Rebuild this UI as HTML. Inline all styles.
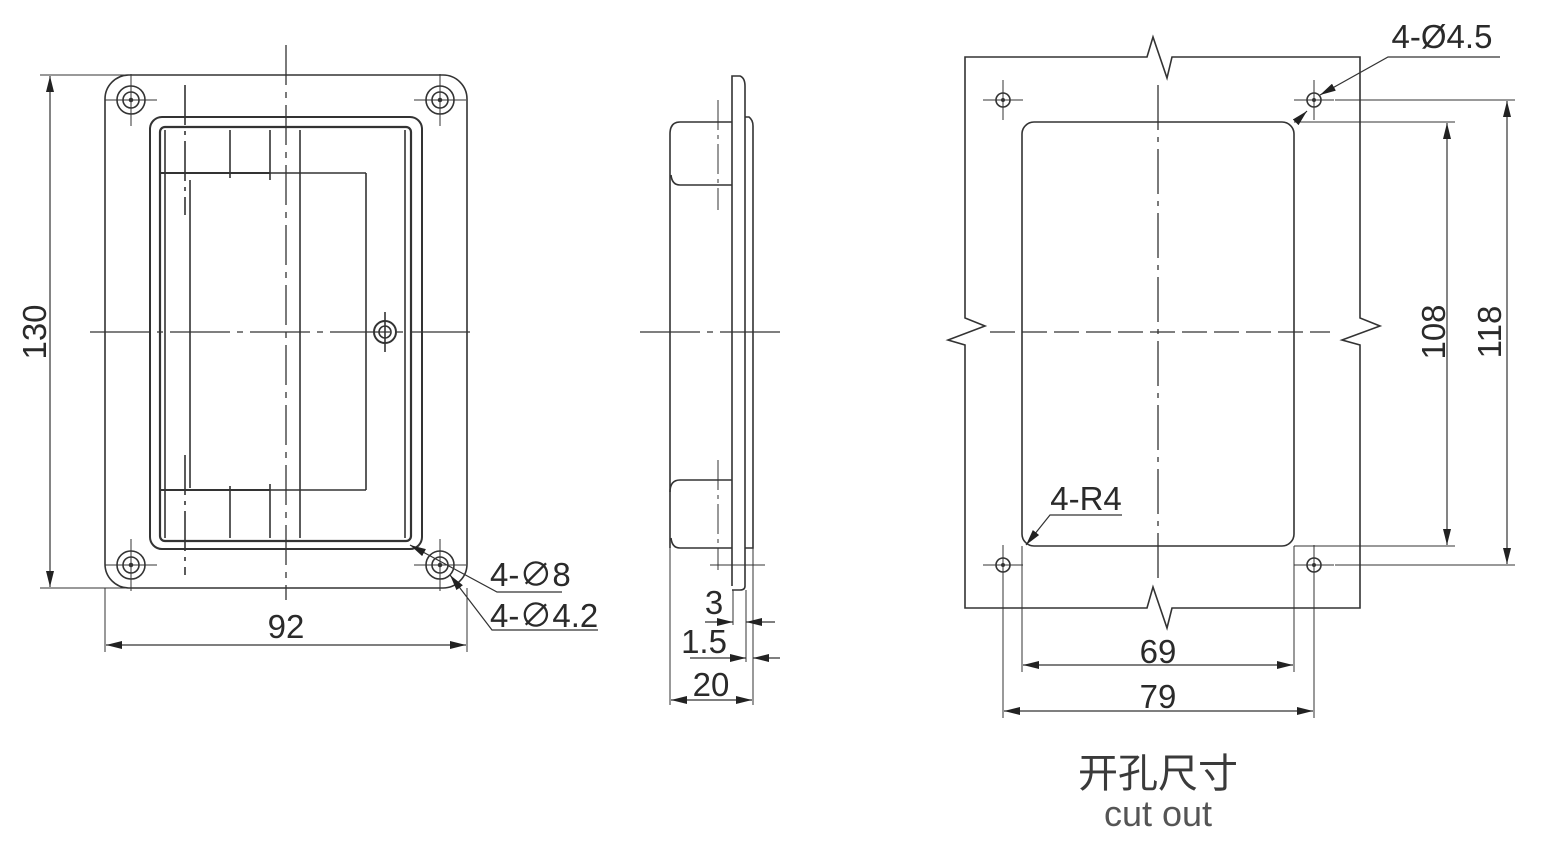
<!DOCTYPE html>
<html><head><meta charset="utf-8"><style>
html,body{margin:0;padding:0;background:#fff;}
svg{display:block;}
text{font-family:"Liberation Sans","Noto Sans CJK SC",sans-serif;fill:#2a2a2a;}
</style></head><body>
<svg width="1547" height="848" viewBox="0 0 1547 848" xmlns="http://www.w3.org/2000/svg">
<defs>
<marker id="a" viewBox="0 0 16 8" refX="16" refY="4" markerWidth="16" markerHeight="8" orient="auto-start-reverse" markerUnits="userSpaceOnUse"><path d="M0,0 L16,4 L0,8 z" fill="#222"/></marker>
<g id="h" fill="none" stroke="#333" stroke-width="1.6"><circle r="14"/><circle r="8"/><circle r="1.5" fill="#333"/><line x1="-26" y1="0" x2="26" y2="0" stroke-width="1"/><line x1="0" y1="-26" x2="0" y2="26" stroke-width="1"/></g>
<g id="s" fill="none" stroke="#333" stroke-width="1.6"><circle r="7"/><circle r="1.2" fill="#333"/><line x1="-20" y1="0" x2="20" y2="0" stroke-width="1"/><line x1="0" y1="-20" x2="0" y2="20" stroke-width="1"/></g>
</defs>
<g fill="none" stroke="#333" stroke-width="1.6">
<!-- LEFT VIEW -->
<rect x="105" y="75" width="362" height="513" rx="24"/>
<rect x="150" y="117" width="272" height="432" rx="12" stroke-width="2"/>
<rect x="160" y="127" width="251" height="414" rx="5" stroke-width="2.2"/>
<line x1="165" y1="130" x2="165" y2="538"/>
<line x1="405" y1="130" x2="405" y2="538"/>
<line x1="160" y1="173" x2="270" y2="173" stroke-width="2"/>
<line x1="230" y1="130" x2="230" y2="178"/>
<line x1="270" y1="130" x2="270" y2="180"/>
<line x1="300" y1="130" x2="300" y2="538"/>
<line x1="270" y1="173" x2="366" y2="173"/>
<line x1="366" y1="173" x2="366" y2="490"/>
<line x1="190" y1="180" x2="190" y2="488"/>
<line x1="160" y1="490" x2="270" y2="490" stroke-width="2"/>
<line x1="230" y1="486" x2="230" y2="538"/>
<line x1="270" y1="484" x2="270" y2="538"/>
<line x1="270" y1="490" x2="366" y2="490"/>
<line x1="185" y1="85" x2="185" y2="215" stroke-dasharray="40,6,4,6"/>
<line x1="185" y1="455" x2="185" y2="575" stroke-dasharray="40,6,4,6"/>
<line x1="286" y1="45" x2="286" y2="600" stroke-dasharray="40,7,6,7" stroke-width="1.3"/>
<line x1="90" y1="332" x2="475" y2="332" stroke-dasharray="60,7,6,7" stroke-width="1.3"/>
<circle cx="385" cy="332" r="11" stroke-width="2"/><circle cx="385" cy="332" r="6"/>
<line x1="385" y1="312" x2="385" y2="352"/>
</g>
<use href="#h" x="131" y="100"/><use href="#h" x="440" y="100"/><use href="#h" x="131" y="565"/><use href="#h" x="440" y="565"/>
<use href="#s" x="1003" y="100"/><use href="#s" x="1314" y="100"/><use href="#s" x="1003" y="565"/><use href="#s" x="1314" y="565"/>
<g fill="none" stroke="#333" stroke-width="1.6">
<line x1="40" y1="75" x2="150" y2="75" stroke-width="1"/>
<line x1="40" y1="588" x2="150" y2="588" stroke-width="1"/>
<line x1="50" y1="76" x2="50" y2="587" marker-start="url(#a)" marker-end="url(#a)" stroke-width="1.2"/>
<line x1="105" y1="588" x2="105" y2="652" stroke-width="1"/>
<line x1="467" y1="588" x2="467" y2="652" stroke-width="1"/>
<line x1="106" y1="645" x2="466" y2="645" marker-start="url(#a)" marker-end="url(#a)" stroke-width="1.2"/>
<polyline points="562,592 497,592 410,545" stroke-width="1.2" marker-end="url(#a)"/>
<polyline points="598,630 492,630 450,575" stroke-width="1.2" marker-end="url(#a)"/>
<!-- SIDE VIEW -->
<path d="M732,586 L732,76 L740,76 Q745,78 745,86 L745,586 Q745,590 740,590 L732,590"/>
<path d="M745,117 L749,117 Q753,120 753,126 L753,548 L745,548"/>
<path d="M732,122 L680,122 Q670,122 670,134 L670,548"/>
<path d="M732,185 L680,185 Q672,185 671,175"/>
<path d="M732,480 L680,480 Q670,480 670,492"/>
<path d="M732,548 L680,548 Q672,548 671,538"/>
<line x1="670" y1="540" x2="670" y2="705" stroke-width="1"/>
<line x1="753" y1="548" x2="753" y2="705" stroke-width="1"/>
<line x1="733" y1="590" x2="733" y2="625" stroke-width="1"/>
<line x1="746" y1="590" x2="746" y2="662" stroke-width="1"/>
<line x1="718" y1="100" x2="718" y2="210" stroke-dasharray="30,5,4,5" stroke-width="1"/>
<line x1="718" y1="460" x2="718" y2="570" stroke-dasharray="30,5,4,5" stroke-width="1"/>
<line x1="640" y1="332" x2="785" y2="332" stroke-dasharray="60,7,6,7" stroke-width="1.2"/>
<line x1="710" y1="565" x2="765" y2="565" stroke-width="1"/>
<line x1="705" y1="622" x2="733" y2="622" marker-end="url(#a)" stroke-width="1.2"/>
<line x1="775" y1="622" x2="746" y2="622" marker-end="url(#a)" stroke-width="1.2"/>
<line x1="690" y1="658" x2="746" y2="658" marker-end="url(#a)" stroke-width="1.2"/>
<line x1="780" y1="658" x2="753" y2="658" marker-end="url(#a)" stroke-width="1.2"/>
<line x1="671" y1="700" x2="752" y2="700" marker-start="url(#a)" marker-end="url(#a)" stroke-width="1.2"/>
<!-- CUTOUT VIEW -->
<path d="M965,57 L1147,57 L1153,37 L1167,78 L1172,57 L1360,57 L1360,318 L1380,326 L1342,340 L1360,345 L1360,608 L1172,608 L1167,628 L1153,587 L1147,608 L965,608 L965,345 L948,340 L985,326 L965,318 Z"/>
<rect x="1022" y="122" width="272" height="424" rx="12"/>
<line x1="1158" y1="85" x2="1158" y2="580" stroke-dasharray="45,7,5,7" stroke-width="1.3"/>
<line x1="990" y1="332" x2="1330" y2="332" stroke-dasharray="25,7" stroke-width="1.3"/>
<line x1="1335" y1="100" x2="1515" y2="100" stroke-width="1"/>
<line x1="1335" y1="565" x2="1515" y2="565" stroke-width="1"/>
<line x1="1294" y1="122" x2="1455" y2="122" stroke-width="1"/>
<line x1="1294" y1="546" x2="1455" y2="546" stroke-width="1"/>
<line x1="1447" y1="123" x2="1447" y2="545" marker-start="url(#a)" marker-end="url(#a)" stroke-width="1.2"/>
<line x1="1507" y1="101" x2="1507" y2="564" marker-start="url(#a)" marker-end="url(#a)" stroke-width="1.2"/>
<line x1="1022" y1="546" x2="1022" y2="672" stroke-width="1"/>
<line x1="1294" y1="546" x2="1294" y2="672" stroke-width="1"/>
<line x1="1003" y1="580" x2="1003" y2="718" stroke-width="1"/>
<line x1="1314" y1="580" x2="1314" y2="718" stroke-width="1"/>
<line x1="1023" y1="665" x2="1293" y2="665" marker-start="url(#a)" marker-end="url(#a)" stroke-width="1.2"/>
<line x1="1004" y1="711" x2="1313" y2="711" marker-start="url(#a)" marker-end="url(#a)" stroke-width="1.2"/>
<polyline points="1500,57 1388,57 1320,95" stroke-width="1.2" marker-end="url(#a)"/>
<line x1="1300" y1="118" x2="1307" y2="111" stroke-width="1.2" marker-end="url(#a)"/>
<polyline points="1122,515 1050,515 1026,545" stroke-width="1.2" marker-end="url(#a)"/>
</g>
<!-- TEXT -->
<text x="46" y="332" font-size="33" text-anchor="middle" transform="rotate(-90 46 332)">130</text>
<text x="286" y="638" font-size="33" text-anchor="middle">92</text>
<text x="490" y="586" font-size="33">4-∅8</text>
<text x="490" y="627" font-size="33">4-∅4.2</text>
<text x="714" y="614" font-size="33" text-anchor="middle">3</text>
<text x="704" y="653" font-size="33" text-anchor="middle">1.5</text>
<text x="711" y="696" font-size="33" text-anchor="middle">20</text>
<text x="1442" y="48" font-size="33" text-anchor="middle">4-Ø4.5</text>
<text x="1086" y="510" font-size="33" text-anchor="middle">4-R4</text>
<text x="1158" y="663" font-size="33" text-anchor="middle">69</text>
<text x="1158" y="708" font-size="33" text-anchor="middle">79</text>
<text x="1445" y="332" font-size="33" text-anchor="middle" transform="rotate(-90 1445 332)">108</text>
<text x="1501" y="332" font-size="33" text-anchor="middle" transform="rotate(-90 1501 332)">118</text>
<text x="1158" y="787" font-size="40" text-anchor="middle" style="fill:#3a3a3a">开孔尺寸</text>
<text x="1158" y="826" font-size="36" text-anchor="middle" style="fill:#555">cut out</text>
</svg>
</body></html>
